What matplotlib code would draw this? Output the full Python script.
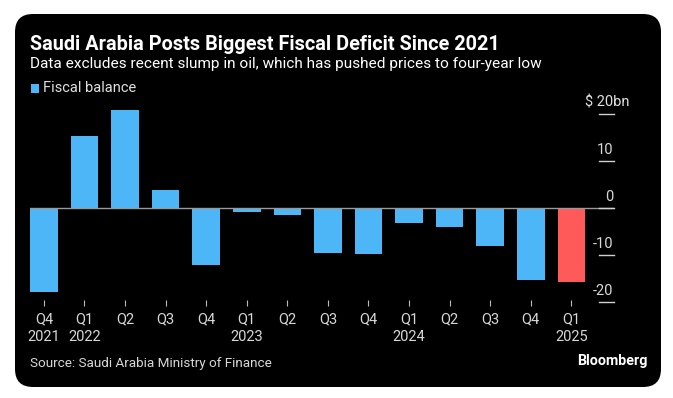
import numpy as np
import matplotlib
matplotlib.use("Agg")
import matplotlib.pyplot as plt
from matplotlib.patches import FancyBboxPatch, Rectangle
import matplotlib.transforms as mtransforms

# data
quarters = ["Q4", "Q1", "Q2", "Q3", "Q4", "Q1", "Q2", "Q3", "Q4", "Q1", "Q2", "Q3", "Q4", "Q1"]
years = ["2021", "2022", "", "", "", "2023", "", "", "", "2024", "", "", "", "2025"]
balance = [-18.0, 15.3, 20.8, 3.8, -12.1, -0.8, -1.4, -9.5, -9.9, -3.3, -4.0, -8.0, -15.3, -15.7]
yticks = [20, 10, 0, -10, -20]
ytick_labels = ["$ 20bn", "10", "0", "-10", "-20"]

blue = "#4cb6f7"
red = "#ff5a5a"
plt.rcParams["font.family"] = ["DejaVu Sans Condensed", "Roboto"]

W, H = 673, 398
fig = plt.figure(figsize=(W / 100, H / 100), dpi=100)
fig.patch.set_facecolor("white")

# black rounded card
card = FancyBboxPatch((0.15, 0.11), 6.46, 3.73,
                      boxstyle="round,pad=0,rounding_size=0.18",
                      transform=fig.dpi_scale_trans, facecolor="black",
                      edgecolor="none", zorder=-5)
fig.patches.append(card)

def fx(px):
    return px / W

def fy(py):
    return 1 - py / H

ax = fig.add_axes([fx(30), fy(300), (613.5 - 30) / W, 200 / H])
ax.set_facecolor("none")

x = np.arange(len(balance))
colors = [blue] * (len(balance) - 1) + [red]
ax.bar(x, balance, width=0.68, color=colors, zorder=2)
ax.axhline(0, color="#9a9a9a", lw=1, zorder=3)

ax.set_xlim(-0.342, 14.04)
ax.set_ylim(-19.6, 23.0)

for s in ax.spines.values():
    s.set_visible(False)
ax.set_yticks([])
ax.set_xticks(x)
ax.set_xticklabels([q + "\n" + y if y else q for q, y in zip(quarters, years)],
                   color="#d8d8d8", fontsize=10.5, linespacing=1.35, va="top")
ax.tick_params(axis="x", length=4, width=0.8, color="#bbbbbb", pad=5)

# right-hand value ticks: short dashes with labels above
trans = mtransforms.blended_transform_factory(ax.transAxes, ax.transData)
for v, lab in zip(yticks, ytick_labels):
    ax.plot([0.976, 1.0], [v, v], color="#d0d0d0", lw=1, transform=trans,
            clip_on=False, zorder=4)
    if lab.startswith("$"):
        ax.annotate(lab, xy=(0.9897, v), xycoords=trans, xytext=(0, 3),
                    textcoords="offset points", ha="center", va="bottom",
                    color="#e0e0e0", fontsize=10.5)
    else:
        ax.annotate(lab, xy=(1.0, v), xycoords=trans, xytext=(0, 3),
                    textcoords="offset points", ha="right", va="bottom",
                    color="#d8d8d8", fontsize=10.5)

# titles
fig.text(fx(30), fy(44), "Saudi Arabia Posts Biggest Fiscal Deficit Since 2021",
         color="white", fontsize=14.3, fontweight="bold", va="center", ha="left")
fig.text(fx(30), fy(64), "Data excludes recent slump in oil, which has pushed prices to four-year low",
         color="white", fontsize=11.1, va="center", ha="left")

# legend
fig.patches.append(Rectangle((fx(31), fy(93)), 8 / W, 9 / H, transform=fig.transFigure,
                             facecolor=blue, edgecolor="none"))
fig.text(fx(43), fy(88), "Fiscal balance", color="#e0e0e0", fontsize=10.5, va="center", ha="left")

# footer
fig.text(fx(30), fy(363), "Source: Saudi Arabia Ministry of Finance",
         color="#d8d8d8", fontsize=9.7, va="center", ha="left")
fig.text(fx(647), fy(361), "Bloomberg", color="white", fontsize=10.3,
         fontweight="bold", va="center", ha="right")

fig.savefig("out.png", dpi=100, facecolor=fig.get_facecolor())
